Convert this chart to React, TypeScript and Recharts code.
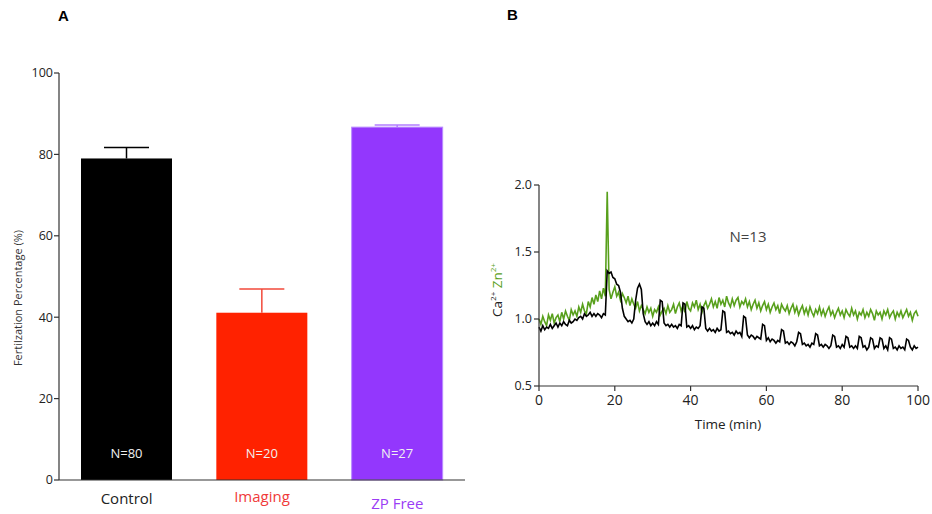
import React from "react";
import { Bar, BarChart, LabelList, Line, LineChart, XAxis, YAxis } from "recharts";

// Panel A: fertilization percentage per group
const CATEGORIES = ["Control", "Imaging", "ZP Free"];
const FERT_MEAN = [79, 41.1, 86.7];
const FERT_SEM = [2.7, 5.8, 0.5];
const N_LABELS = ["N=80", "N=20", "N=27"];
const FERT_TICKS = [0, 20, 40, 60, 80, 100];

// Panel B: normalized Ca2+ / Zn2+ traces, one sample every 0.5 min
const TIME = [
  0, 0.5, 1, 1.5, 2, 2.5, 3, 3.5, 4, 4.5,
  5, 5.5, 6, 6.5, 7, 7.5, 8, 8.5, 9, 9.5,
  10, 10.5, 11, 11.5, 12, 12.5, 13, 13.5, 14, 14.5,
  15, 15.5, 16, 16.5, 17, 17.5, 18, 18.5, 19, 19.5,
  20, 20.5, 21, 21.5, 22, 22.5, 23, 23.5, 24, 24.5,
  25, 25.5, 26, 26.5, 27, 27.5, 28, 28.5, 29, 29.5,
  30, 30.5, 31, 31.5, 32, 32.5, 33, 33.5, 34, 34.5,
  35, 35.5, 36, 36.5, 37, 37.5, 38, 38.5, 39, 39.5,
  40, 40.5, 41, 41.5, 42, 42.5, 43, 43.5, 44, 44.5,
  45, 45.5, 46, 46.5, 47, 47.5, 48, 48.5, 49, 49.5,
  50, 50.5, 51, 51.5, 52, 52.5, 53, 53.5, 54, 54.5,
  55, 55.5, 56, 56.5, 57, 57.5, 58, 58.5, 59, 59.5,
  60, 60.5, 61, 61.5, 62, 62.5, 63, 63.5, 64, 64.5,
  65, 65.5, 66, 66.5, 67, 67.5, 68, 68.5, 69, 69.5,
  70, 70.5, 71, 71.5, 72, 72.5, 73, 73.5, 74, 74.5,
  75, 75.5, 76, 76.5, 77, 77.5, 78, 78.5, 79, 79.5,
  80, 80.5, 81, 81.5, 82, 82.5, 83, 83.5, 84, 84.5,
  85, 85.5, 86, 86.5, 87, 87.5, 88, 88.5, 89, 89.5,
  90, 90.5, 91, 91.5, 92, 92.5, 93, 93.5, 94, 94.5,
  95, 95.5, 96, 96.5, 97, 97.5, 98, 98.5, 99, 99.5,
  100,
];
const ZN = [
  1.0, 0.96, 1.02, 0.98, 0.95, 1.03, 0.99, 1.04, 0.97, 1.01,
  1.03, 0.98, 1.05, 1.0, 1.06, 1.02, 0.99, 1.07, 1.03, 1.06,
  1.02, 1.09, 1.05, 1.11, 1.06, 1.04, 1.13, 1.09, 1.16, 1.11,
  1.18, 1.13, 1.21, 1.15, 1.23, 1.17, 1.95, 1.22, 1.15, 1.2,
  1.24, 1.17, 1.2, 1.14, 1.19, 1.16, 1.12, 1.17, 1.1, 1.15,
  1.11, 1.08, 1.13, 1.06, 1.1, 1.07, 1.04, 1.09, 1.05, 1.08,
  1.02, 1.07, 1.05, 1.09, 1.03, 1.06, 1.08, 1.04, 1.1, 1.05,
  1.07, 1.11, 1.04, 1.09, 1.12, 1.06, 1.1, 1.05, 1.13, 1.08,
  1.06, 1.12, 1.09, 1.14, 1.07, 1.11, 1.05, 1.1, 1.13, 1.08,
  1.11, 1.15, 1.09, 1.13, 1.08, 1.16, 1.11, 1.14, 1.09, 1.17,
  1.12, 1.09, 1.15, 1.1, 1.14, 1.16, 1.09, 1.13, 1.11, 1.15,
  1.09, 1.13, 1.07, 1.11, 1.14, 1.08, 1.12, 1.06, 1.1, 1.13,
  1.07, 1.11, 1.05, 1.09, 1.12, 1.07, 1.1, 1.04, 1.11, 1.08,
  1.06, 1.1, 1.04, 1.08, 1.11, 1.05, 1.09, 1.03, 1.07, 1.1,
  1.04, 1.08, 1.03, 1.09, 1.05, 1.02, 1.07, 1.04, 1.09, 1.03,
  1.07, 1.02, 1.06, 1.09, 1.03, 1.06, 1.01, 1.05, 1.08, 1.03,
  1.06, 1.01, 1.07, 1.04, 1.02, 1.08, 1.03, 1.06, 1.0, 1.05,
  1.03, 1.07, 1.01, 1.05, 1.02, 1.07, 1.04, 0.99, 1.06, 1.03,
  1.05, 1.0, 1.06, 1.03, 1.07, 1.01, 1.04, 1.06, 1.0, 1.05,
  1.02, 1.06, 1.01, 1.04, 1.07, 1.02, 1.05, 0.99, 1.04, 1.06,
  1.02,
];
const CA = [
  0.94, 0.91, 0.95, 0.92, 0.94, 0.93, 0.96, 0.93, 0.95, 0.97,
  0.94, 0.97, 0.95, 0.98, 0.96, 0.95, 0.99, 0.97, 0.98, 1.0,
  0.99, 1.01, 1.02, 1.0, 1.04, 1.02, 1.03, 1.05, 1.02, 1.04,
  1.02, 1.04, 1.03, 1.01, 1.04, 1.03, 1.36, 1.34, 1.35, 1.31,
  1.3, 1.26, 1.25, 1.2, 1.08, 1.02, 1.0, 0.98, 0.99, 0.97,
  1.0, 1.14, 1.23, 1.26, 1.22, 1.04, 0.98, 0.96, 0.98, 0.95,
  0.97, 0.95, 0.98, 0.96, 1.14, 1.13, 0.97, 0.95, 0.96, 0.94,
  0.96, 0.94, 0.95, 0.93, 0.96, 0.95, 1.12, 1.11, 0.94, 0.95,
  0.93, 0.95, 0.92, 0.94, 0.93, 0.95, 1.09, 1.08, 0.93, 0.91,
  0.93, 0.91, 0.92, 0.9, 0.93, 0.91, 0.92, 1.06, 1.05, 0.9,
  0.91, 0.89, 0.9, 0.88, 0.91, 0.89, 0.9, 0.87, 1.02, 1.01,
  0.88, 0.86, 0.88, 0.87, 0.85, 0.87, 0.86, 0.85, 0.96, 0.95,
  0.84, 0.86, 0.83, 0.85, 0.84, 0.82, 0.84, 0.83, 0.92, 0.91,
  0.82, 0.83, 0.81, 0.83, 0.82, 0.8, 0.83, 0.9, 0.89, 0.81,
  0.82, 0.8, 0.81, 0.79, 0.82, 0.81, 0.89, 0.88, 0.8, 0.81,
  0.79, 0.81, 0.8, 0.78, 0.8, 0.88, 0.87, 0.79, 0.8, 0.78,
  0.81, 0.79, 0.87, 0.86, 0.79, 0.8, 0.78, 0.8, 0.78, 0.87,
  0.86, 0.79, 0.8, 0.77, 0.79, 0.86, 0.85, 0.78, 0.8, 0.79,
  0.86, 0.85, 0.78, 0.8, 0.77, 0.86, 0.85, 0.78, 0.79, 0.77,
  0.8, 0.78, 0.79, 0.77, 0.85, 0.84, 0.79, 0.77, 0.8, 0.78,
  0.79,
];
const TIME_TICKS = [0, 20, 40, 60, 80, 100];
const RATIO_TICKS = [0.5, 1.0, 1.5, 2.0];

const BAR_FILL = ["#000000", "#ff2200", "#9337fd"];
const ERR_COLOR = ["#000000", "#f2493a", "#b27dff"];
const CAT_COLOR = ["#222222", "#f03a3a", "#9b3cf5"];
const CAT_DY = [24, 22, 29];
const FONT = "'Open Sans', 'Noto Sans', sans-serif";
const GREEN = "#58a01c";

const fertData = CATEGORIES.map((name, i) => ({
  name,
  mean: FERT_MEAN[i],
  sem: FERT_SEM[i],
  n: N_LABELS[i],
}));

const traceData = TIME.map((t, i) => ({ t, ca: CA[i], zn: ZN[i] }));

function BarWithError(props: any) {
  const { x, y, width, height, payload } = props;
  const i = CATEGORIES.indexOf(payload.name);
  const perUnit = height / payload.mean;
  const top = y - payload.sem * perUnit;
  const cx = x + width / 2;
  return (
    <g>
      <rect x={x} y={y} width={width} height={height} fill={BAR_FILL[i]}
        stroke={i === 2 ? "#b98cff" : "none"} strokeWidth={1} />
      <line x1={cx} x2={cx} y1={y} y2={top} stroke={ERR_COLOR[i]} strokeWidth={1.5} />
      <line x1={cx - 22.5} x2={cx + 22.5} y1={top} y2={top} stroke={ERR_COLOR[i]} strokeWidth={1.5} />
    </g>
  );
}

function CategoryTick(props: any) {
  const { x, y, payload } = props;
  const i = CATEGORIES.indexOf(payload.value);
  return (
    <text x={x} y={y + CAT_DY[i]} textAnchor="middle" fontSize={15} fontFamily={FONT} fill={CAT_COLOR[i]}>
      {payload.value}
    </text>
  );
}

function NLabel(props: any) {
  const { x, y, width, height, value } = props;
  return (
    <text x={x + width / 2} y={y + height - 22} textAnchor="middle" fontSize={13} fontFamily={FONT} fill="#f0f0f0">
      {value}
    </text>
  );
}

const panelTitle: React.CSSProperties = {
  position: "absolute",
  fontFamily: "'Liberation Sans', Arial, sans-serif",
  fontWeight: 700,
  fontSize: 15,
  lineHeight: 1,
};

export default function App() {
  return (
    <div style={{ position: "absolute", left: 0, top: 0, width: 932, height: 514, background: "#fff" }}>
      <div style={{ ...panelTitle, left: 58, top: 8 }}>A</div>
      <div style={{ ...panelTitle, left: 507, top: 7 }}>B</div>

      <div style={{ position: "absolute", left: 0, top: 0 }}>
        <BarChart width={480} height={514} data={fertData}
          margin={{ top: 73, right: 15, bottom: 4, left: 19 }}>
          <XAxis dataKey="name" height={30} tickLine={false} tickSize={0} tickMargin={0}
            axisLine={{ stroke: "#333", strokeWidth: 1.2 }} tick={<CategoryTick />} interval={0} />
          <YAxis width={40} domain={[0, 100]} ticks={FERT_TICKS} interval={0} tickSize={5} tickMargin={1}
            axisLine={{ stroke: "#333", strokeWidth: 1.2 }} tickLine={{ stroke: "#333", strokeWidth: 1.2 }}
            tick={{ fontSize: 12.5, fill: "#222", fontFamily: FONT }}
            label={{
              content: () => (
                <text transform="translate(22, 298) rotate(-90)" textAnchor="middle" fontSize={11}
                  fontFamily={FONT} fill="#333">
                  Fertilzation Percentage (%)
                </text>
              ),
            }} />
          <Bar dataKey="mean" barSize={91} shape={<BarWithError />} isAnimationActive={false}>
            <LabelList dataKey="n" content={<NLabel />} />
          </Bar>
        </BarChart>
      </div>

      <div style={{ position: "absolute", left: 480, top: 0 }}>
        <LineChart width={452} height={514} data={traceData}
          margin={{ top: 185, right: 14, bottom: 98, left: 19 }}>
          <XAxis dataKey="t" type="number" domain={[0, 100]} ticks={TIME_TICKS} interval={0}
            height={30} tickSize={5} tickMargin={4}
            axisLine={{ stroke: "#333", strokeWidth: 1.2 }} tickLine={{ stroke: "#333", strokeWidth: 1.2 }}
            tick={{ fontSize: 14, fill: "#222", fontFamily: FONT }}
            label={{
              content: () => (
                <text x={248} y={429} textAnchor="middle" fontSize={13.5} fontFamily={FONT} fill="#222">
                  Time (min)
                </text>
              ),
            }} />
          <YAxis width={40} domain={[0.5, 2.0]} ticks={RATIO_TICKS} interval={0} tickSize={5} tickMargin={2}
            tickFormatter={(v: number) => v.toFixed(1)}
            axisLine={{ stroke: "#333", strokeWidth: 1.2 }} tickLine={{ stroke: "#333", strokeWidth: 1.2 }}
            tick={{ fontSize: 12.5, fill: "#222", fontFamily: FONT }}
            label={{
              content: () => (
                <text transform="translate(22, 290) rotate(-90)" textAnchor="middle" fontSize={13.5}
                  fontFamily={FONT} fill="#222">
                  <tspan>Ca</tspan>
                  <tspan fontSize={8} dy={-6}>2+</tspan>
                  <tspan dy={6}> </tspan>
                  <tspan fill={GREEN}>Zn</tspan>
                  <tspan fill={GREEN} fontSize={8} dy={-6}>2+</tspan>
                </text>
              ),
            }} />
          <Line dataKey="zn" type="linear" stroke={GREEN} strokeWidth={1.6} dot={false} isAnimationActive={false} />
          <Line dataKey="ca" type="linear" stroke="#000" strokeWidth={1.6} dot={false} isAnimationActive={false} />
          <text x={268} y={242} textAnchor="middle" fontSize={15} fontFamily={FONT} fill="#444">N=13</text>
        </LineChart>
      </div>
    </div>
  );
}
